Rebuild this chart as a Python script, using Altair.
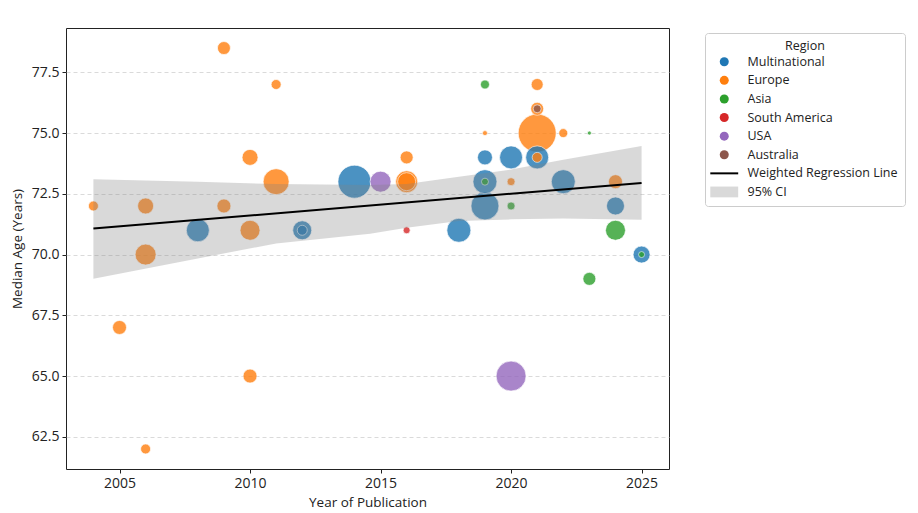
import altair as alt
import pandas as pd

# ---- data ----
years = [2004, 2005, 2006, 2006, 2006, 2009, 2009, 2010, 2010, 2010, 2011, 2011,
         2016, 2016, 2016, 2019, 2020, 2021, 2021, 2021, 2021, 2022, 2024,
         2008, 2012, 2012, 2014, 2018, 2019, 2019, 2019, 2020, 2021, 2022, 2024, 2025,
         2019, 2019, 2020, 2023, 2023, 2024, 2025,
         2016, 2015, 2020, 2021]
ages = [72.0, 67.0, 72.0, 70.0, 62.0, 72.0, 78.5, 74.0, 71.0, 65.0, 73.0, 77.0,
        74.0, 73.0, 73.0, 75.0, 73.0, 77.0, 76.0, 75.0, 74.0, 75.0, 73.0,
        71.0, 71.0, 71.0, 73.0, 71.0, 74.0, 73.0, 72.0, 74.0, 74.0, 73.0, 72.0, 70.0,
        77.0, 73.0, 72.0, 75.0, 69.0, 71.0, 70.0,
        71.0, 73.0, 65.0, 76.0]
regions = (["Europe"] * 23 + ["Multinational"] * 13 + ["Asia"] * 7 +
           ["South America"] + ["USA"] * 2 + ["Australia"])
sample_sizes = [1000, 1960, 2560, 4410, 1000, 1960, 1690, 2560, 4000, 1960, 6760, 1000,
                1690, 4840, 3240, 250, 640, 1440, 1690, 14440, 1000, 810, 1960,
                5290, 3610, 1000, 10890, 5760, 2250, 5760, 7840, 5290, 5290, 5760, 3240, 2890,
                810, 490, 640, 160, 1690, 4000, 360,
                490, 4410, 9000, 640]

line_years = [2004, 2025]
line_ages = [71.07, 72.95]

band_years = [2004, 2008, 2011, 2014.6, 2016, 2018, 2020, 2022, 2025]
band_upper = [73.10, 73.00, 72.90, 72.86, 72.90, 73.20, 73.50, 73.90, 74.47]
band_lower = [69.00, 69.84, 70.46, 70.86, 71.10, 71.38, 71.45, 71.48, 71.43]

legend_domain = ["Multinational", "Europe", "Asia", "South America", "USA", "Australia",
                 "Weighted Regression Line", "95% CI"]
legend_colors = ["#1f77b4", "#ff7f0e", "#2ca02c", "#d62728", "#9467bd", "#8c564b",
                 "#000000", "#d9d9d9"]
legend_shapes = ["circle"] * 6 + ["M-3.1,-0.22H3.1V0.22H-3.1Z", "M-3.1,-1.2H3.1V1.2H-3.1Z"]

points = pd.DataFrame({"Year": years, "Age": ages, "Region": regions, "N": sample_sizes})
line_df = pd.DataFrame({"Year": line_years, "Age": line_ages})
band_df = pd.DataFrame({"Year": band_years, "Upper": band_upper, "Lower": band_lower})

FONT = "Open Sans"
xscale = alt.Scale(domain=[2002.95, 2026.05], nice=False, zero=False)
yscale = alt.Scale(domain=[61.175, 79.325], nice=False, zero=False)
color_scale = alt.Scale(domain=legend_domain, range=legend_colors)
shape_scale = alt.Scale(domain=legend_domain, range=legend_shapes)

xaxis = alt.Axis(title="Year of Publication", values=[2005, 2010, 2015, 2020, 2025],
                 format="d", grid=False, titlePadding=5)
yaxis = alt.Axis(title="Median Age (Years)", values=[62.5, 65, 67.5, 70, 72.5, 75, 77.5],
                 format=".1f", grid=True, gridDash=[4, 3], gridColor="#d0d0d0", gridWidth=0.8,
                 titlePadding=7)

legend = alt.Legend(
    title="Region", orient="none", legendX=639, legendY=5,
    titleAnchor="middle", padding=7, titlePadding=3, strokeColor="#cccccc", cornerRadius=3,
    fillColor="white", symbolSize=81, symbolOffset=6, labelOffset=17,
    rowPadding=5.6, symbolOpacity=1, symbolStrokeWidth=0,
)

pts = alt.Chart(points).mark_point(filled=True, opacity=0.8, stroke="white",
                                   strokeWidth=0.7).encode(
    x=alt.X("Year:Q", scale=xscale, axis=xaxis),
    y=alt.Y("Age:Q", scale=yscale, axis=yaxis),
    color=alt.Color("Region:N", scale=color_scale, legend=legend),
    shape=alt.Shape("Region:N", scale=shape_scale, legend=legend),
    size=alt.Size("N:Q", scale=alt.Scale(domain=[0, 14440], range=[0, 1444]), legend=None),
    order=alt.Order("N:Q", sort="descending"),
)

band = alt.Chart(band_df).mark_area(color="#808080", opacity=0.3).encode(
    x=alt.X("Year:Q", scale=xscale),
    y=alt.Y("Lower:Q", scale=yscale),
    y2="Upper:Q",
)

reg = alt.Chart(line_df).mark_line(color="#000000", strokeWidth=2).encode(
    x=alt.X("Year:Q", scale=xscale),
    y=alt.Y("Age:Q", scale=yscale),
)

chart = alt.layer(pts, band, reg).properties(
    width=603, height=441,
    autosize=alt.AutoSizeParams(type="none"),
    padding={"left": 58, "top": 20, "right": 241, "bottom": 44},
).configure_view(
    stroke="#222222", strokeWidth=1
).configure_axis(
    labelFont=FONT, titleFont=FONT, labelFontSize=14, titleFontSize=13.5,
    labelColor="#222222", titleColor="#222222", titleFontWeight="normal",
    tickColor="#222222", tickSize=4, domain=False, labelPadding=3,
).configure_legend(
    labelFont=FONT, titleFont=FONT, labelFontSize=12.5, titleFontSize=12.5,
    titleFontWeight="normal", labelColor="#222222", titleColor="#222222",
)

chart.save("out.html", embed_options={"renderer": "svg", "actions": False})
